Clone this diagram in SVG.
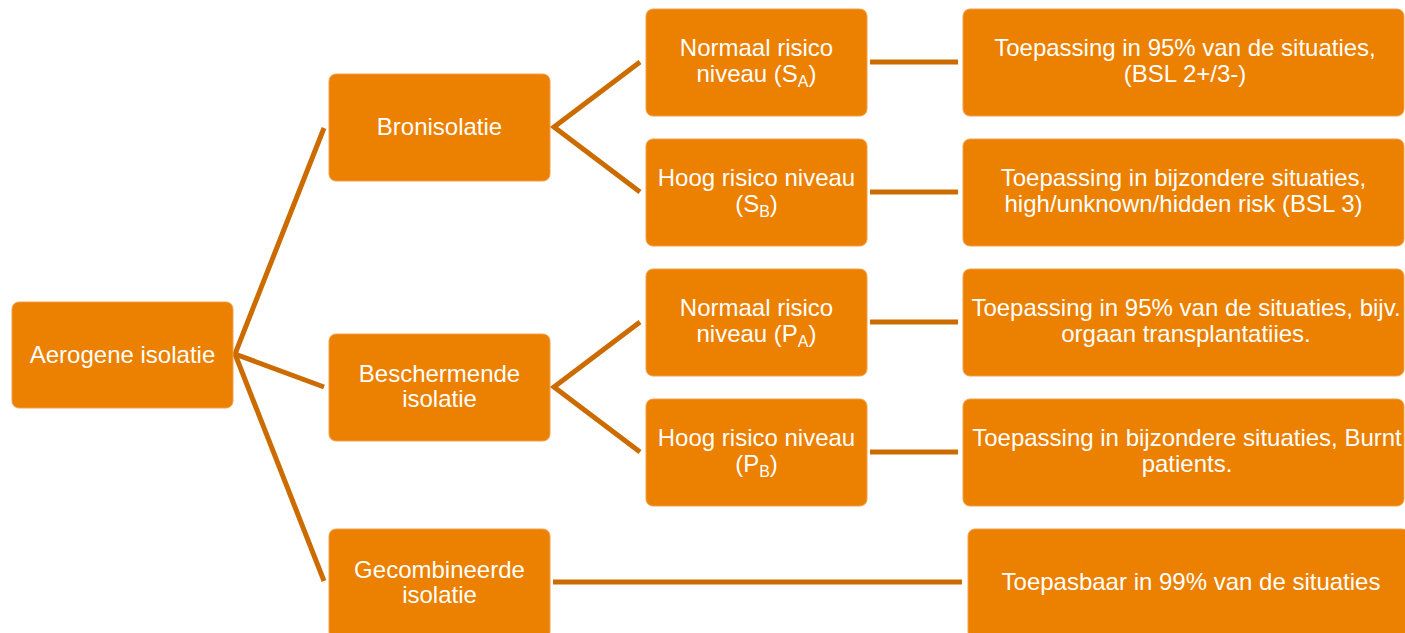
<svg xmlns="http://www.w3.org/2000/svg" width="1405" height="633" viewBox="0 0 1405 633">
<style>
.box{fill:#ec8000;stroke:#f2a04a;stroke-width:1}
.t{font-family:"Liberation Sans",Arial,sans-serif;font-size:24px;fill:#ffffff;text-anchor:middle}
.sub{font-size:16px}
.c{stroke:#cc6c00;stroke-width:5;fill:none;stroke-linecap:butt}
</style>
<rect width="1405" height="633" fill="#ffffff"/>
<g id="connectors">
<polyline class="c" points="324,128 235,354 324,387"/>
<line class="c" x1="235" y1="354" x2="324" y2="581"/>
<polyline class="c" points="640,62 554,127 640,192"/>
<polyline class="c" points="640,322 554,387 640,452"/>
<line class="c" x1="870" y1="62" x2="958" y2="62"/>
<line class="c" x1="870" y1="192" x2="958" y2="192"/>
<line class="c" x1="870" y1="322" x2="958" y2="322"/>
<line class="c" x1="870" y1="452" x2="958" y2="452"/>
<line class="c" x1="553" y1="582" x2="962" y2="582"/>
</g>
<g id="n-aerogene">
<rect class="box" x="12" y="302" width="221" height="106" rx="7"/>
<text class="t" x="122.5" y="363">Aerogene isolatie</text>
</g>
<g id="n-bron">
<rect class="box" x="329" y="74" width="221" height="107" rx="7"/>
<text class="t" x="439.5" y="135">Bronisolatie</text>
</g>
<g id="n-besch">
<rect class="box" x="329" y="334" width="221" height="107" rx="7"/>
<text class="t" x="439.5" y="382">Beschermende</text>
<text class="t" x="439.5" y="407">isolatie</text>
</g>
<g id="n-gecomb">
<rect class="box" x="329" y="529" width="221" height="110" rx="7"/>
<text class="t" x="439.5" y="578">Gecombineerde</text>
<text class="t" x="439.5" y="603">isolatie</text>
</g>
<g id="n-sa">
<rect class="box" x="646" y="9" width="221" height="107" rx="7"/>
<text class="t" x="756.5" y="56">Normaal risico</text>
<text class="t" x="756.5" y="82">niveau (S<tspan class="sub" dy="5">A</tspan><tspan dy="-5">)</tspan></text>
</g>
<g id="n-sb">
<rect class="box" x="646" y="139" width="221" height="107" rx="7"/>
<text class="t" x="756.5" y="186">Hoog risico niveau</text>
<text class="t" x="756.5" y="212">(S<tspan class="sub" dy="5">B</tspan><tspan dy="-5">)</tspan></text>
</g>
<g id="n-pa">
<rect class="box" x="646" y="269" width="221" height="107" rx="7"/>
<text class="t" x="756.5" y="316">Normaal risico</text>
<text class="t" x="756.5" y="342">niveau (P<tspan class="sub" dy="5">A</tspan><tspan dy="-5">)</tspan></text>
</g>
<g id="n-pb">
<rect class="box" x="646" y="399" width="221" height="107" rx="7"/>
<text class="t" x="756.5" y="446">Hoog risico niveau</text>
<text class="t" x="756.5" y="472">(P<tspan class="sub" dy="5">B</tspan><tspan dy="-5">)</tspan></text>
</g>
<g id="n-sa-desc">
<rect class="box" x="963" y="9" width="441" height="107" rx="7"/>
<text class="t" x="1185" y="56">Toepassing in 95% van de situaties,</text>
<text class="t" x="1185" y="82">(BSL 2+/3-)</text>
</g>
<g id="n-sb-desc">
<rect class="box" x="963" y="139" width="441" height="107" rx="7"/>
<text class="t" x="1183.5" y="186">Toepassing in bijzondere situaties,</text>
<text class="t" x="1183.5" y="212">high/unknown/hidden risk (BSL 3)</text>
</g>
<g id="n-pa-desc">
<rect class="box" x="963" y="269" width="441" height="107" rx="7"/>
<text class="t" x="1186" y="316">Toepassing in 95% van de situaties, bijv.</text>
<text class="t" x="1186" y="342">orgaan transplantatiies.</text>
</g>
<g id="n-pb-desc">
<rect class="box" x="963" y="399" width="441" height="107" rx="7"/>
<text class="t" x="1187" y="446">Toepassing in bijzondere situaties, Burnt</text>
<text class="t" x="1187" y="472">patients.</text>
</g>
<g id="n-gecomb-desc">
<rect class="box" x="968" y="529" width="441" height="110" rx="7"/>
<text class="t" x="1191" y="590">Toepasbaar in 99% van de situaties</text>
</g>
</svg>
